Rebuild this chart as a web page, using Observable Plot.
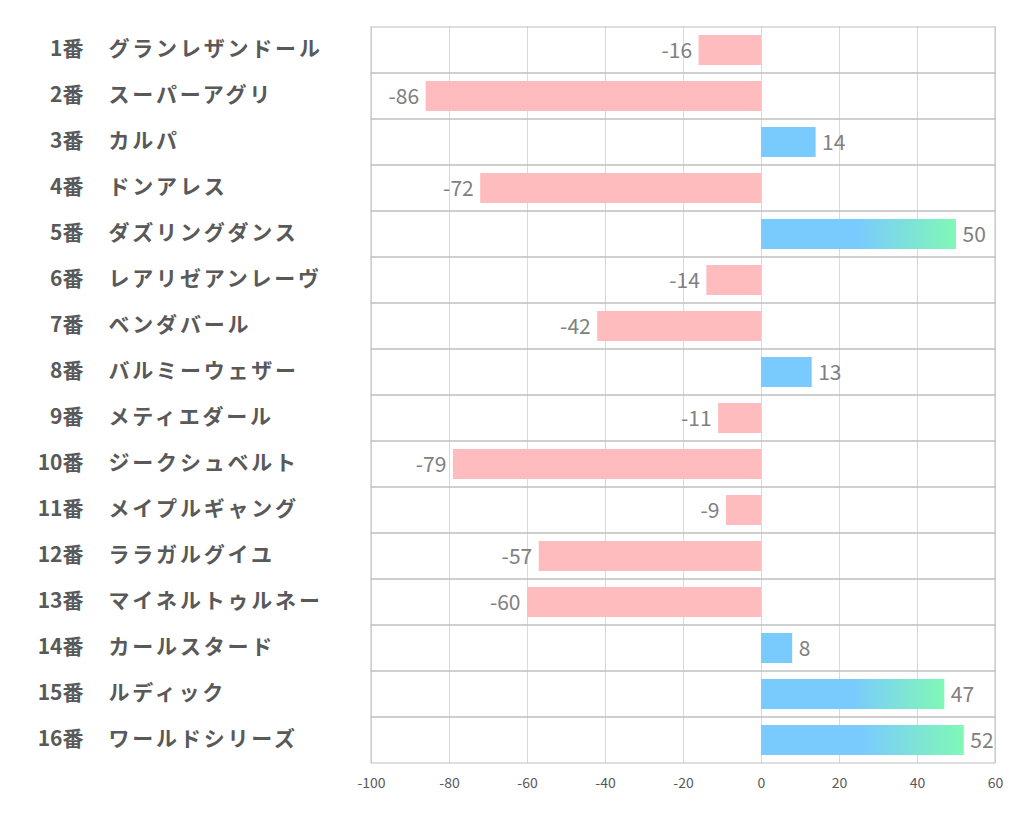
<!DOCTYPE html>
<html><head><meta charset="utf-8">
<script src="https://cdn.jsdelivr.net/npm/d3@7"></script>
<script src="https://cdn.jsdelivr.net/npm/@observablehq/plot@0.6"></script>
<style>body{margin:0;background:#fff}</style>
</head><body><div id="chart"></div>
<script>
const numbers = ["1番","2番","3番","4番","5番","6番","7番","8番","9番","10番","11番","12番","13番","14番","15番","16番"];
const names = ["グランレザンドール","スーパーアグリ","カルパ","ドンアレス","ダズリングダンス","レアリゼアンレーヴ","ベンダバール","バルミーウェザー","メティエダール","ジークシュベルト","メイプルギャング","ララガルグイユ","マイネルトゥルネー","カールスタード","ルディック","ワールドシリーズ"];
const values = [-16,-86,14,-72,50,-14,-42,13,-11,-79,-9,-57,-60,8,47,52];
const xTicks = [-100,-80,-60,-40,-20,0,20,40,60];

const data = numbers.map((k,i)=>({key:k, name:names[i], value:values[i]}));
const font = "'Noto Sans CJK JP', 'Noto Sans', sans-serif";

const svg = Plot.plot({
  width:1022, height:834,
  marginLeft:371, marginRight:27, marginTop:26, marginBottom:71,
  x:{domain:[-100,60], ticks:xTicks, label:null},
  y:{domain:numbers, padding:0, axis:null, label:null},
  style:{fontFamily:font, background:"#fff"},
  marks:[
    Plot.gridX(xTicks,{stroke:"#d9d9d9", strokeOpacity:1}),
    Plot.barX(data,{y:"key", x1:-100, x2:60, fill:"none", stroke:"#bfbfbf"}),
    Plot.barX(data.filter(d=>d.value<0),{x:"value", y:"key", fill:"#ffbcbf", insetTop:8, insetBottom:8}),
    Plot.barX(data.filter(d=>d.value>0 && d.value<40),{x:"value", y:"key", fill:"#7acbfd", insetTop:8, insetBottom:8}),
    Plot.barX(data.filter(d=>d.value>=40),{x:"value", y:"key", fill:"url(#posGrad)", insetTop:8, insetBottom:8}),
    Plot.text(data.filter(d=>d.value<0),{x:"value", y:"key", text:d=>String(d.value), textAnchor:"end", dx:-7, dy:1, fontSize:21, fill:"#808080"}),
    Plot.text(data.filter(d=>d.value>0),{x:"value", y:"key", text:d=>String(d.value), textAnchor:"start", dx:6, dy:1, fontSize:21, fill:"#808080"}),
    Plot.text(data,{y:"key", frameAnchor:"left", text:"key", textAnchor:"end", dx:-288, dy:-1, fontSize:21, fontWeight:"bold", fill:"#595959"}),
    Plot.text(data,{y:"key", frameAnchor:"left", text:"name", textAnchor:"start", dx:-263, dy:-1, fontSize:21, fontWeight:"bold", fill:"#595959"}),
    Plot.axisX(xTicks,{tickSize:0, tickPadding:15, fontSize:14, color:"#595959", label:null, tickFormat:d=>String(d)})
  ]
});

const nameSet = new Set(names);
svg.querySelectorAll("text").forEach(t=>{
  if (nameSet.has(t.textContent)) t.setAttribute("letter-spacing","2.8px");
});

const ns = "http://www.w3.org/2000/svg";
const defs = document.createElementNS(ns,"defs");
defs.innerHTML = '<linearGradient id="posGrad" x1="0" y1="0" x2="1" y2="0"><stop offset="0.5" stop-color="#7acbfd"/><stop offset="1" stop-color="#80f8b6"/></linearGradient>';
svg.insertBefore(defs, svg.firstChild);
document.getElementById("chart").appendChild(svg);
</script>
</body></html>
